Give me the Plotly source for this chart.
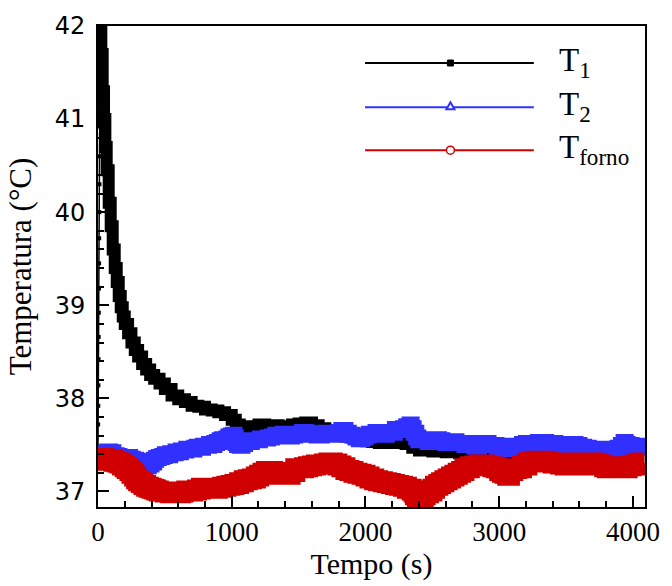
import plotly.graph_objects as go

# ---------------- data ----------------
# T1: fast initial rise (sparse samples along the y axis)
t1_rise = [0, 1, 2, 3, 4, 5, 6, 7, 8, 9, 10, 11, 12, 13, 14, 15, 16]
T1_rise = [37.48, 37.72, 37.92, 38.14, 38.42, 38.66, 38.92, 39.18, 39.45,
           39.72, 40.0, 40.3, 40.6, 40.92, 41.25, 41.62, 42.0]

# T1: decay
t1 = [16, 25, 35, 45, 55, 65, 80, 95, 110, 125, 140, 155, 170, 185, 200, 225,
      250, 275, 300, 330, 360, 390, 420, 460, 500, 550, 600, 650, 700, 750,
      800, 850, 900, 950, 1000, 1030, 1060, 1100, 1150, 1200, 1250, 1300,
      1350, 1400, 1450, 1500, 1550, 1600, 1650, 1700, 1750, 1800, 1850, 1900,
      1950, 2000, 2050, 2100, 2150, 2200, 2250, 2300, 2350, 2400, 2450, 2500,
      2600, 2700, 2800, 2900, 3000, 3100, 3200, 3300, 3400, 3500, 3600, 3700,
      3800, 3900, 4000, 4085]
T1 = [42.0, 41.7, 41.3, 41.0, 40.7, 40.45, 40.1, 39.85, 39.6, 39.4, 39.25,
      39.1, 38.98, 38.88, 38.8, 38.7, 38.6, 38.52, 38.45, 38.37, 38.31, 38.25,
      38.21, 38.16, 38.1, 38.03, 37.99, 37.96, 37.92, 37.91, 37.88, 37.87,
      37.85, 37.82, 37.77, 37.72, 37.65, 37.68, 37.7, 37.72, 37.7, 37.71,
      37.69, 37.7, 37.72, 37.73, 37.74, 37.71, 37.68, 37.64, 37.62, 37.61,
      37.59, 37.58, 37.56, 37.54, 37.53, 37.52, 37.53, 37.52, 37.53, 37.51,
      37.47, 37.44, 37.44, 37.43, 37.42, 37.41, 37.4, 37.38, 37.34, 37.35,
      37.37, 37.38, 37.39, 37.38, 37.38, 37.37, 37.36, 37.37, 37.38, 37.38]

# T2
t2 = [0, 25, 50, 70, 90, 115, 140, 160, 185, 210, 240, 260, 285, 310, 330,
      345, 360, 380, 400, 420, 435, 455, 480, 500, 520, 540, 556, 580, 600,
      620, 640, 660, 682, 700, 720, 740, 760, 785, 808, 830, 850, 870, 890,
      910, 928, 945, 960, 975, 993, 1010, 1020, 1030, 1040, 1060, 1080, 1100,
      1120, 1150, 1180, 1210, 1240, 1270, 1300, 1325, 1350, 1380, 1405, 1430,
      1450, 1475, 1500, 1525, 1552, 1575, 1600, 1635, 1672, 1700, 1720, 1760,
      1797, 1820, 1850, 1875, 1900, 1925, 1950, 1975, 2000, 2025, 2050, 2075,
      2100, 2130, 2160, 2190, 2220, 2250, 2280, 2305, 2330, 2345, 2360, 2380,
      2395, 2420, 2440, 2465, 2490, 2520, 2550, 2575, 2595, 2620, 2650, 2680,
      2715, 2740, 2765, 2790, 2815, 2850, 2890, 2920, 2950, 2980, 3010, 3040,
      3070, 3100, 3135, 3170, 3200, 3230, 3260, 3290, 3320, 3350, 3385, 3420,
      3450, 3480, 3510, 3540, 3570, 3600, 3635, 3670, 3700, 3730, 3760, 3790,
      3820, 3850, 3885, 3910, 3930, 3945, 3960, 3990, 4020, 4050, 4085]
T2 = [37.38, 37.41, 37.40, 37.43, 37.42, 37.39, 37.38, 37.37, 37.36, 37.37,
      37.35, 37.34, 37.33, 37.31, 37.30, 37.28, 37.27, 37.29, 37.31, 37.34,
      37.36, 37.37, 37.38, 37.40, 37.39, 37.41, 37.41, 37.43, 37.42, 37.44,
      37.44, 37.46, 37.46, 37.45, 37.47, 37.48, 37.47, 37.49, 37.49, 37.51,
      37.50, 37.52, 37.53, 37.55, 37.56, 37.55, 37.57, 37.59, 37.60, 37.61,
      37.58, 37.52, 37.50, 37.49, 37.51, 37.53, 37.53, 37.55, 37.55, 37.57,
      37.57, 37.58, 37.59, 37.61, 37.60, 37.62, 37.61, 37.59, 37.60, 37.62,
      37.62, 37.64, 37.63, 37.61, 37.62, 37.60, 37.62, 37.63, 37.61, 37.62,
      37.64, 37.66, 37.63, 37.61, 37.60, 37.58, 37.56, 37.58, 37.60, 37.62,
      37.62, 37.64, 37.63, 37.61, 37.64, 37.63, 37.67, 37.66, 37.68, 37.70,
      37.72, 37.68, 37.63, 37.58, 37.55, 37.56, 37.55, 37.53, 37.54, 37.56,
      37.55, 37.53, 37.52, 37.54, 37.54, 37.52, 37.52, 37.50, 37.50, 37.52,
      37.48, 37.50, 37.52, 37.50, 37.50, 37.48, 37.46, 37.45, 37.47, 37.49,
      37.49, 37.51, 37.52, 37.50, 37.51, 37.53, 37.53, 37.50, 37.52, 37.51,
      37.51, 37.49, 37.49, 37.51, 37.50, 37.48, 37.47, 37.46, 37.46, 37.45,
      37.44, 37.43, 37.45, 37.46, 37.47, 37.50, 37.53, 37.51, 37.50, 37.48,
      37.47, 37.49, 37.46]

# T_forno
tf = [0, 20, 40, 65, 90, 115, 140, 160, 180, 200, 215, 235, 250, 270, 285,
      300, 320, 340, 360, 380, 400, 420, 435, 455, 480, 500, 520, 540, 556,
      580, 600, 620, 640, 660, 682, 710, 740, 770, 808, 835, 860, 895, 928,
      960, 990, 1020, 1055, 1090, 1120, 1150, 1180, 1205, 1230, 1255, 1277,
      1310, 1340, 1370, 1405, 1440, 1475, 1505, 1540, 1570, 1600, 1630, 1660,
      1690, 1723, 1755, 1790, 1820, 1850, 1880, 1910, 1940, 1970, 2000, 2030,
      2065, 2095, 2130, 2160, 2190, 2220, 2250, 2280, 2310, 2345, 2360, 2370,
      2385, 2395, 2410, 2420, 2435, 2450, 2475, 2500, 2520, 2545, 2565, 2590,
      2615, 2640, 2665, 2690, 2715, 2740, 2780, 2815, 2850, 2890, 2920, 2950,
      2975, 3000, 3020, 3040, 3060, 3080, 3105, 3135, 3170, 3210, 3240, 3270,
      3300, 3335, 3370, 3400, 3430, 3455, 3490, 3520, 3550, 3580, 3610, 3640,
      3675, 3710, 3735, 3760, 3785, 3805, 3830, 3860, 3895, 3930, 3960, 3990,
      4015, 4040, 4060, 4085]
Tf = [37.33, 37.36, 37.35, 37.33, 37.34, 37.32, 37.31, 37.30, 37.28, 37.26,
      37.24, 37.22, 37.19, 37.16, 37.13, 37.11, 37.09, 37.07, 37.05, 37.04,
      37.03, 37.02, 37.01, 37.00, 37.00, 36.99, 36.99, 36.98, 36.99, 36.98,
      36.98, 36.99, 37.00, 37.01, 37.00, 37.01, 37.02, 37.04, 37.04, 37.03,
      37.03, 37.04, 37.05, 37.06, 37.07, 37.08, 37.10, 37.12, 37.13, 37.14,
      37.16, 37.18, 37.20, 37.22, 37.22, 37.21, 37.20, 37.18, 37.18, 37.21,
      37.25, 37.25, 37.26, 37.27, 37.28, 37.29, 37.29, 37.30, 37.31, 37.30,
      37.28, 37.26, 37.23, 37.22, 37.20, 37.19, 37.18, 37.16, 37.14, 37.12,
      37.11, 37.10, 37.09, 37.08, 37.07, 37.06, 37.05, 37.03, 37.01, 36.99,
      36.96, 36.93, 36.92, 36.93, 36.94, 36.96, 36.98, 37.00, 37.03, 37.06,
      37.08, 37.10, 37.12, 37.14, 37.16, 37.18, 37.20, 37.22, 37.25, 37.27,
      37.28, 37.29, 37.28, 37.27, 37.26, 37.25, 37.22, 37.20, 37.19, 37.17,
      37.22, 37.24, 37.25, 37.28, 37.31, 37.32, 37.33, 37.33, 37.32, 37.31,
      37.30, 37.31, 37.29, 37.28, 37.30, 37.31, 37.29, 37.28, 37.30, 37.31,
      37.30, 37.29, 37.28, 37.26, 37.25, 37.27, 37.27, 37.26, 37.25, 37.27,
      37.28, 37.29, 37.30, 37.31, 37.31]

x_ticks = [0, 1000, 2000, 3000, 4000]
y_ticks = [37, 38, 39, 40, 41, 42]

legend_names = ["T<sub>1</sub>", "T<sub>2</sub>", "T<sub>forno</sub>"]
colors = ["#000000", "#3030ff", "#d00000"]

# ---------------- figure ----------------
fig = go.Figure()

fig.add_trace(go.Scatter(x=t1_rise, y=T1_rise, mode="lines+markers",
                         line=dict(color=colors[0], width=1.5),
                         marker=dict(symbol="square", size=4, color=colors[0]),
                         showlegend=False, hoverinfo="skip"))
fig.add_trace(go.Scatter(x=t1, y=T1, mode="lines", line_shape="hv",
                         line=dict(color=colors[0], width=12),
                         name="T1", showlegend=False))
fig.add_trace(go.Scatter(x=t2, y=T2, mode="lines", line_shape="hv",
                         line=dict(color=colors[1], width=16),
                         name="T2", showlegend=False))
fig.add_trace(go.Scatter(x=tf, y=Tf, mode="lines", line_shape="hv",
                         line=dict(color=colors[2], width=20),
                         name="Tforno", showlegend=False))

# ---------------- manual legend ----------------
L, R, T, B = 98, 23, 19, 73
W, H = 672 - L - R, 586 - T - B
def px(xp):
    return (xp - L) / W
def py(yp):
    return (586 - B - yp) / H

leg_y = [57, 102.5, 146.5]
x0, x1, xm, xt = px(367), px(537), px(453), px(560)
shapes = []
annotations = []
for i, (name, col) in enumerate(zip(legend_names, colors)):
    yy = py(leg_y[i])
    shapes.append(dict(type="line", xref="paper", yref="paper", x0=x0, x1=x1,
                       y0=yy, y1=yy, line=dict(color=col, width=2)))
    annotations.append(dict(xref="paper", yref="paper", x=xt, y=yy + 0.002,
                            xanchor="left", yanchor="middle", text=name,
                            showarrow=False,
                            font=dict(family="Liberation Serif", size=33,
                                      color="black")))
shapes.append(dict(type="rect", xref="paper", yref="paper", xsizemode="pixel",
                   ysizemode="pixel", xanchor=xm, yanchor=py(leg_y[0]),
                   x0=-3, x1=3, y0=-3, y1=3, fillcolor=colors[0],
                   line=dict(color=colors[0], width=1)))
shapes.append(dict(type="path", xref="paper", yref="paper", xsizemode="pixel",
                   ysizemode="pixel", xanchor=xm, yanchor=py(leg_y[1]),
                   path="M -4 -2 L 4 -2 L 0 5 Z", fillcolor="white",
                   line=dict(color=colors[1], width=2)))
shapes.append(dict(type="circle", xref="paper", yref="paper", xsizemode="pixel",
                   ysizemode="pixel", xanchor=xm, yanchor=py(leg_y[2]),
                   x0=-4, x1=4, y0=-4, y1=4, fillcolor="white",
                   line=dict(color=colors[2], width=1.5)))

fig.update_layout(
    width=672, height=586,
    margin=dict(l=L, r=R, t=T, b=B, pad=0),
    paper_bgcolor="white", plot_bgcolor="white",
    showlegend=False,
    shapes=shapes, annotations=annotations,
    xaxis=dict(range=[0, 4090], tickvals=x_ticks, ticks="inside",
               ticklen=11, tickwidth=1.5, tickcolor="black",
               showline=True, linecolor="black", linewidth=2, mirror=True,
               showgrid=False, zeroline=False,
               minor=dict(dtick=200, tick0=0, ticks="inside", ticklen=6,
                          tickwidth=1.5, tickcolor="black", showgrid=False),
               tickfont=dict(family="Liberation Serif", size=27, color="black"),
               title=dict(text="Tempo (s)", standoff=6,
                          font=dict(family="Liberation Serif", size=30,
                                    color="black"))),
    yaxis=dict(range=[36.833, 42.0], tickvals=y_ticks, ticks="inside",
               ticklen=11, tickwidth=1.5, tickcolor="black",
               showline=True, linecolor="black", linewidth=2, mirror=True,
               showgrid=False, zeroline=False,
               minor=dict(dtick=0.2, tick0=37, ticks="inside", ticklen=6,
                          tickwidth=1.5, tickcolor="black", showgrid=False),
               ticklabelstandoff=6,
               tickfont=dict(family="DejaVu Sans", size=24, color="black"),
               title=dict(text="Temperatura (°C)", standoff=14,
                          font=dict(family="Liberation Serif", size=31,
                                    color="black"))),
)

fig.write_html("out.html")
